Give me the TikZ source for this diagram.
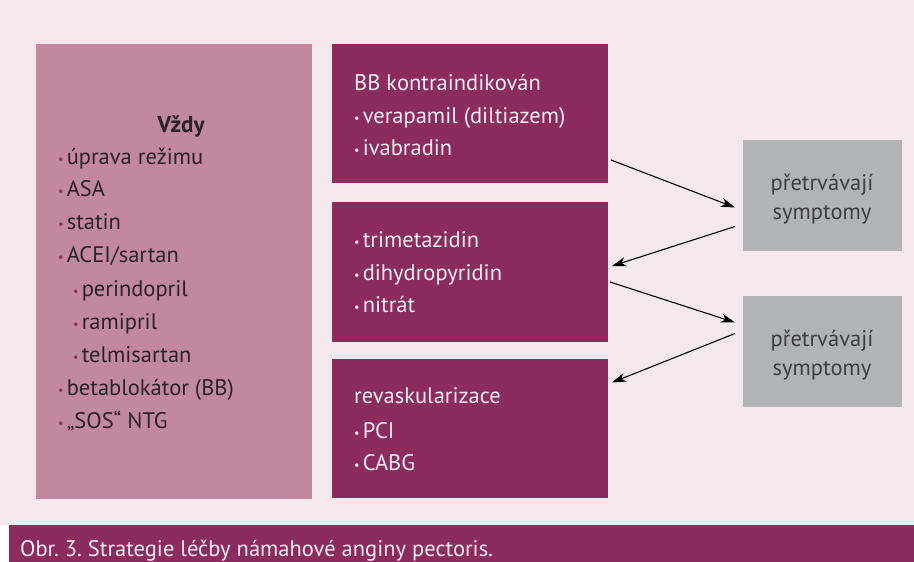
\documentclass[tikz,border=0pt]{standalone}
\usepackage{fontspec}
\usepackage{graphicx}
\setmainfont{PT Sans}
\frenchspacing
\usetikzlibrary{arrows.meta}
\definecolor{bgpink}{HTML}{F4E8ED}
\definecolor{lightbox}{HTML}{C2889F}
\definecolor{darkbox}{HTML}{8C2C5E}
\definecolor{graybox}{HTML}{B2B3B5}
\definecolor{txtdark}{HTML}{2A2226}
\definecolor{txtgray}{HTML}{3E3E40}
\definecolor{txtlight}{HTML}{F6ECF1}
\newcommand{\mybul}[1]{{\color{#1}\raisebox{0.5pt}{\scalebox{0.55}{•}}}\hspace{3pt}}
\tikzset{
  x=1pt, y=-1pt,
  boxbase/.style={draw=none, inner sep=0pt, outer sep=0pt, anchor=north west},
  lbox/.style={boxbase, fill=lightbox},
  dbox/.style={boxbase, fill=darkbox},
  gbox/.style={boxbase, fill=graybox},
  ltxt/.style={anchor=base west, inner sep=0pt, font=\fontsize{22.5}{26}\selectfont, text=txtdark},
  dtxt/.style={anchor=base west, inner sep=0pt, font=\fontsize{22.5}{26}\selectfont, text=txtlight},
  gtxt/.style={anchor=base, inner sep=0pt, font=\fontsize{22.5}{26}\selectfont, text=txtgray},
  arr/.style={-{Stealth[length=14pt,width=9pt,inset=4pt]}, line width=1.1pt, black},
}
\begin{document}
\begin{tikzpicture}
\useasboundingbox (0,0) rectangle (914,562);
\fill[bgpink] (0,0) rectangle (914,525);
\fill[white] (0,525) rectangle (914,562);
\node[boxbase, fill=darkbox, minimum width=905pt, minimum height=37pt] (cap) at (9,525) {};
\node[anchor=base west, inner sep=0pt, font=\fontsize{22.5}{26}\selectfont, text=txtlight] (captxt) at (20,556) {Obr. 3. Strategie léčby námahové anginy pectoris.};

% left box
\node[lbox, minimum width=276pt, minimum height=455pt] (L) at (36,44) {};
\node[anchor=base, inner sep=0pt, font=\fontsize{23}{26}\selectfont\bfseries, text=txtdark] (vzdy) at (181,132) {Vždy};
\node[ltxt] (l1) at (58,164) {\mybul{darkbox}úprava režimu};
\node[ltxt] (l2) at (58,196) {\mybul{darkbox}ASA};
\node[ltxt] (l3) at (58,229) {\mybul{darkbox}statin};
\node[ltxt] (l4) at (58,262) {\mybul{darkbox}ACEI/sartan};
\node[ltxt] (l5) at (73,296) {\mybul{darkbox}perindopril};
\node[ltxt] (l6) at (73,329) {\mybul{darkbox}ramipril};
\node[ltxt] (l7) at (73,362) {\mybul{darkbox}telmisartan};
\node[ltxt] (l8) at (58,395) {\mybul{darkbox}betablokátor (BB)};
\node[ltxt] (l9) at (58,428) {\mybul{darkbox}„SOS“ NTG};

% dark boxes
\node[dbox, minimum width=276pt, minimum height=139pt] (b1) at (332,44) {};
\node[dtxt] (b1a) at (354,90) {BB kontraindikován};
\node[dtxt] (b1b) at (354,123) {\mybul{txtlight}verapamil (diltiazem)};
\node[dtxt] (b1c) at (354,155) {\mybul{txtlight}ivabradin};

\node[dbox, minimum width=276pt, minimum height=140pt] (b2) at (332,202) {};
\node[dtxt] (b2a) at (354,247) {\mybul{txtlight}trimetazidin};
\node[dtxt] (b2b) at (354,280) {\mybul{txtlight}dihydropyridin};
\node[dtxt] (b2c) at (354,312) {\mybul{txtlight}nitrát};

\node[dbox, minimum width=276pt, minimum height=139pt] (b3) at (332,359) {};
\node[dtxt] (b3a) at (354,403) {revaskularizace};
\node[dtxt] (b3b) at (354,438) {\mybul{txtlight}PCI};
\node[dtxt] (b3c) at (354,470) {\mybul{txtlight}CABG};

% gray boxes
\node[gbox, minimum width=159pt, minimum height=111pt] (g1) at (743,140) {};
\node[gtxt] (g1a) at (822,190) {přetrvávají};
\node[gtxt] (g1b) at (822,219) {symptomy};
\node[gbox, minimum width=159pt, minimum height=111pt] (g2) at (743,296) {};
\node[gtxt] (g2a) at (822,346) {přetrvávají};
\node[gtxt] (g2b) at (822,375) {symptomy};

% arrows
\draw[arr] ([xshift=3pt,yshift=23pt]b1.south east) -- ([xshift=-8pt,yshift=-12pt]g1.west);
\draw[arr] ([xshift=-8pt,yshift=-31pt]g1.west) -- ([xshift=4pt,yshift=6pt]b2.east);
\draw[arr] ([xshift=2pt,yshift=-10pt]b2.east) -- ([xshift=-8pt,yshift=29pt]g2.west);
\draw[arr] ([xshift=-8pt,yshift=18pt]g2.west) -- ([xshift=4pt,yshift=46pt]b3.east);
\end{tikzpicture}
\end{document}
